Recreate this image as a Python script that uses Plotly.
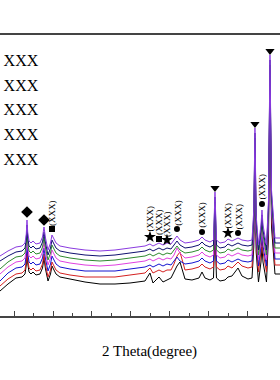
import plotly.graph_objects as go

# 2-theta grid (degrees)
two_theta = [6.41, 8.46, 10.51, 12.05, 12.82, 13.15, 13.33, 13.51, 13.85, 14.36,
             14.87, 15.64, 16.67, 17.31, 17.69, 18.08, 18.72, 19.36, 19.74, 20.13,
             20.77, 21.79, 24.36, 28.21, 32.05, 35.90, 39.74, 43.59, 44.87, 45.64,
             47.18, 48.21, 49.23, 50.26, 51.03, 51.79, 52.56, 53.85, 55.64, 57.44,
             58.21, 58.97, 60.26, 61.15, 61.54, 61.92, 62.82, 64.10, 64.87, 65.90,
             67.44, 68.46, 70.00, 71.03, 71.49, 71.79, 72.10, 72.69, 73.33, 73.59,
             73.85, 74.74, 75.26, 75.64, 76.03, 76.92, 78.21]

# stacked intensity patterns (a.u.), bottom to top
s_black = [25, 32, 38, 39, 42, 51, 65, 53, 44, 42, 44, 41, 42, 48, 58, 47, 35, 42, 50, 47,
           42, 39, 37, 34, 32, 32, 33, 35, 43, 33, 39, 34, 36, 38, 44, 50, 54, 37, 36, 38,
           44, 38, 36, 38, 86, 38, 35, 36, 39, 40, 48, 40, 37, 38, 69, 151, 64, 34, 54, 69,
           54, 34, 79, 224, 89, 42, 42]
s_red = [30, 37, 42, 43, 46, 55, 69, 57, 48, 46, 48, 45, 46, 52, 62, 51, 39, 46, 54, 51,
         46, 43, 41, 39, 39, 39, 41, 43, 48, 43, 46, 44, 46, 46, 52, 60, 64, 46, 47, 49,
         52, 49, 47, 49, 97, 49, 46, 47, 50, 48, 54, 50, 48, 49, 79, 161, 74, 44, 64, 79,
         64, 44, 89, 234, 99, 51, 51]
s_blue = [35, 43, 48, 49, 52, 61, 75, 63, 54, 52, 54, 51, 52, 58, 68, 57, 45, 52, 60, 57,
          52, 49, 47, 45, 45, 45, 47, 49, 51, 49, 52, 50, 52, 51, 55, 59, 55, 52, 53, 55,
          58, 55, 53, 55, 103, 55, 52, 53, 56, 54, 57, 55, 54, 55, 85, 167, 80, 50, 70, 85,
          70, 50, 95, 240, 105, 57, 57]
s_magenta = [42, 49, 54, 55, 58, 67, 81, 69, 60, 58, 60, 57, 58, 64, 74, 63, 51, 58, 66, 63,
             58, 55, 53, 51, 50, 51, 53, 55, 57, 55, 58, 56, 58, 57, 61, 68, 63, 58, 59, 61,
             64, 61, 59, 61, 109, 61, 58, 59, 62, 60, 63, 61, 60, 61, 91, 173, 86, 56, 76, 91,
             76, 56, 101, 246, 111, 63, 63]
s_green = [47, 54, 59, 60, 63, 72, 86, 74, 65, 63, 65, 62, 63, 69, 79, 68, 56, 63, 71, 68,
           63, 60, 58, 56, 55, 56, 58, 60, 62, 60, 63, 61, 63, 62, 66, 70, 66, 63, 64, 66,
           69, 66, 64, 66, 114, 66, 63, 64, 67, 65, 68, 66, 65, 66, 96, 178, 91, 61, 81, 96,
           81, 61, 106, 251, 116, 68, 68]
s_navy = [55, 60, 64, 65, 68, 77, 91, 79, 70, 68, 70, 67, 68, 74, 84, 73, 61, 68, 76, 73,
          68, 65, 63, 61, 60, 61, 63, 65, 67, 65, 68, 66, 68, 67, 71, 75, 71, 68, 69, 71,
          74, 71, 69, 71, 119, 71, 68, 69, 72, 70, 73, 71, 70, 71, 101, 183, 96, 66, 86, 101,
          86, 66, 111, 256, 121, 73, 73]
s_purple = [60, 65, 69, 70, 73, 82, 96, 84, 75, 73, 75, 72, 73, 79, 89, 78, 66, 73, 81, 78,
            73, 70, 68, 66, 65, 66, 68, 70, 72, 70, 73, 71, 73, 72, 76, 80, 76, 73, 74, 76,
            79, 76, 74, 76, 124, 76, 73, 74, 77, 75, 78, 76, 75, 76, 106, 188, 101, 71, 91, 106,
            91, 71, 116, 261, 126, 78, 78]

series = [("black", s_black, "#000000"), ("red", s_red, "#d42020"),
          ("blue", s_blue, "#1515d0"), ("magenta", s_magenta, "#e040e0"),
          ("green", s_green, "#2f8a2f"), ("navy", s_navy, "#101070"),
          ("purple", s_purple, "#8a3ae0")]
for n, s, c in series:
    assert len(s) == len(two_theta), n

# phase markers: (2theta, height)
tri_x = [61.54, 71.79, 75.64]; tri_y = [128, 192, 265]
dia_x = [13.33, 17.69]; dia_y = [104, 96]
star_x = [44.87, 49.23, 64.87]; star_y = [79, 76, 83]
circ_x = [51.79, 58.21, 67.44, 73.59]; circ_y = [87, 84, 83, 112]
sq_x = [19.74, 47.18]; sq_y = [87, 77]

# vertical (XXX) labels
lab_x = [19.74, 44.87, 47.18, 49.23, 52.0, 58.0, 64.87, 67.44, 73.59]
lab_y = [103, 97.5, 94, 92, 103, 101.5, 100.5, 99.5, 129.5]
lab_text = ["(XXX)"] * len(lab_x)

legend_names = ["XXX", "XXX", "XXX", "XXX", "XXX"]

serif = "Liberation Serif"
fig = go.Figure()
for n, s, c in series:
    fig.add_trace(go.Scatter(x=two_theta, y=s, mode="lines",
                             line=dict(color=c, width=1), showlegend=False,
                             hoverinfo="skip"))

marker_sets = [(tri_x, tri_y, "triangle-down", 8), (dia_x, dia_y, "diamond", 9),
               (star_x, star_y, "star", 9), (circ_x, circ_y, "circle", 6),
               (sq_x, sq_y, "square", 6)]
for i, (mx, my, sym, sz) in enumerate(marker_sets):
    fig.add_trace(go.Scatter(x=mx, y=my, mode="markers", name=legend_names[i],
                             marker=dict(symbol=sym, size=sz, color="black"),
                             legendgroup="g%d" % i, cliponaxis=False))

for lx, ly, lt in zip(lab_x, lab_y, lab_text):
    fig.add_annotation(x=lx, y=ly, text=lt, textangle=-90, showarrow=False,
                       font=dict(family=serif, size=9, color="black"))

fig.add_annotation(xref="paper", yref="paper", x=149.5 / 280, y=-0.128,
                   text="2 Theta(degree)", showarrow=False, xanchor="center",
                   yanchor="middle", font=dict(family=serif, size=15, color="black"))

fig.update_layout(
    width=280, height=380,
    margin=dict(l=0, r=0, t=35, b=64, autoexpand=False),
    paper_bgcolor="white", plot_bgcolor="white",
    showlegend=True,
    legend=dict(x=-0.13, y=0.973, xanchor="left", yanchor="top",
                font=dict(family=serif, size=16, color="black"),
                bgcolor="rgba(0,0,0,0)", tracegroupgap=1),
    xaxis=dict(range=[6.41, 78.21], showline=True, linecolor="#444", linewidth=1.5,
               mirror=True, ticks="inside", ticklen=5, tickcolor="#444",
               tick0=0, dtick=10, showticklabels=False, showgrid=False,
               zeroline=False,
               minor=dict(ticks="inside", ticklen=3, dtick=5, tickcolor="#444",
                          showgrid=False)),
    yaxis=dict(range=[0, 281], visible=False),
)
fig.write_html("out.html")
